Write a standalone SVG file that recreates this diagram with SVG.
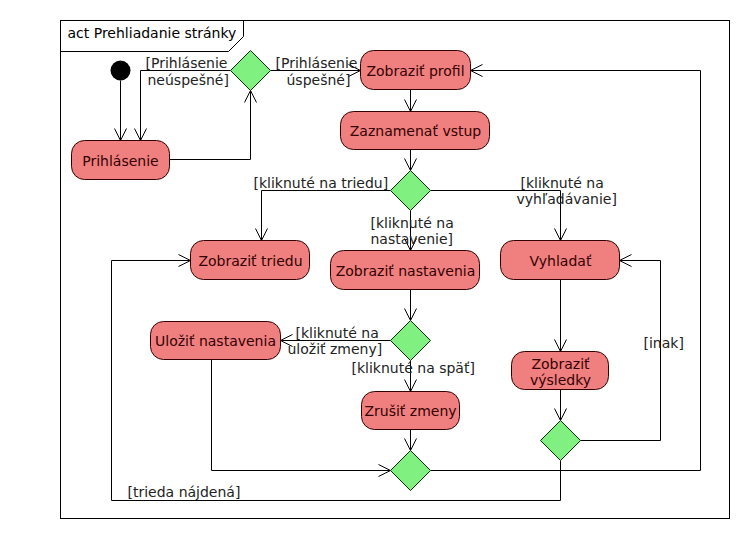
<svg xmlns="http://www.w3.org/2000/svg" width="750" height="540" viewBox="0 0 750 540">
<defs>
<marker id="arr" viewBox="-13 -7 14 14" refX="0" refY="0" markerWidth="14" markerHeight="14" markerUnits="userSpaceOnUse" orient="auto">
<path d="M-12,-6 L0,0 L-12,6" fill="none" stroke="#000" stroke-width="1"/>
</marker>
<style>
text{font-family:"DejaVu Sans","Liberation Sans",sans-serif;font-size:14px;}
.lbl{fill:#222;}
.nt{fill:#300;text-anchor:middle;}
.act{fill:#f08080;stroke:#300;stroke-width:1;}
.dec{fill:#80f080;stroke:#030;stroke-width:1;}
.c{fill:none;stroke:#000;stroke-width:1;marker-end:url(#arr);}
</style>
</defs>
<rect width="750" height="540" fill="#fff"/>
<g transform="translate(0.5,0.5)">
<g id="frame">
<rect x="60" y="20" width="669" height="498" fill="none" stroke="#000"/>
<path d="M60,51 L228,51 L243,36 L243,20" fill="none" stroke="#000"/>
<text x="67" y="37" fill="#000">act Prehliadanie stránky</text>
</g>
<g id="connectors">
<path class="c" d="M120,80 L120,140"/>
<path class="c" d="M169,159 L250,159 L250,90"/>
<path class="c" d="M230,70 L140,70 L140,140"/>
<path class="c" d="M270,70 L360,70"/>
<path class="c" d="M410,89 L410,111"/>
<path class="c" d="M410,149 L410,170"/>
<path class="c" d="M390,190 L261,190 L261,240"/>
<path class="c" d="M410,210 L410,250"/>
<path class="c" d="M430,190 L560,190 L560,240"/>
<path class="c" d="M410,289 L410,320"/>
<path class="c" d="M390,340 L280,340"/>
<path class="c" d="M410,360 L410,391"/>
<path class="c" d="M410,429 L410,450"/>
<path class="c" d="M211,359 L211,470 L390,470"/>
<path class="c" d="M430,470 L700,470 L700,70 L470,70"/>
<path class="c" d="M560,279 L560,351"/>
<path class="c" d="M560,389 L560,420"/>
<path class="c" d="M580,440 L660,440 L660,260 L619,260"/>
<path class="c" d="M560,460 L560,500 L111,500 L111,260 L190,260"/>
<text class="lbl" x="145" y="67">[Prihlásenie</text>
<text class="lbl" x="147" y="84">neúspešné]</text>
<text class="lbl" x="275" y="67">[Prihlásenie</text>
<text class="lbl" x="286" y="84">úspešné]</text>
<text class="lbl" x="253" y="187">[kliknuté na triedu]</text>
<text class="lbl" x="520" y="187">[kliknuté na</text>
<text class="lbl" x="516" y="203">vyhľadávanie]</text>
<text class="lbl" x="370" y="227">[kliknuté na</text>
<text class="lbl" x="370" y="243">nastavenie]</text>
<text class="lbl" x="295" y="337">[kliknuté na</text>
<text class="lbl" x="287" y="353">uložiť zmeny]</text>
<text class="lbl" x="351" y="372">[kliknuté na späť]</text>
<text class="lbl" x="643" y="347">[inak]</text>
<text class="lbl" x="127" y="496">[trieda nájdená]</text>
</g>
<g id="initial"><circle cx="120" cy="70" r="10" fill="#000"/></g>
<g id="prihlasenie"><rect class="act" x="71" y="140" width="98" height="39" rx="13"/><text class="nt" x="120" y="165">Prihlásenie</text></g>
<g id="d1"><path class="dec" d="M250,50 L270,70 L250,90 L230,70 Z"/></g>
<g id="profil"><rect class="act" x="360" y="50" width="110" height="39" rx="13"/><text class="nt" x="415" y="75">Zobraziť profil</text></g>
<g id="vstup"><rect class="act" x="340" y="111" width="149" height="38" rx="13"/><text class="nt" x="415" y="135">Zaznamenať vstup</text></g>
<g id="d2"><path class="dec" d="M410,170 L430,190 L410,210 L390,190 Z"/></g>
<g id="trieda"><rect class="act" x="190" y="240" width="119" height="39" rx="13"/><text class="nt" x="250" y="265">Zobraziť triedu</text></g>
<g id="nastavenia"><rect class="act" x="330" y="250" width="149" height="39" rx="13"/><text class="nt" x="405" y="275">Zobraziť nastavenia</text></g>
<g id="vyhladat"><rect class="act" x="500" y="240" width="119" height="39" rx="13"/><text class="nt" x="560" y="265">Vyhladať</text></g>
<g id="d3"><path class="dec" d="M410,320 L430,340 L410,360 L390,340 Z"/></g>
<g id="ulozit"><rect class="act" x="150" y="321" width="130" height="38" rx="13"/><text class="nt" x="215" y="345">Uložiť nastavenia</text></g>
<g id="zrusit"><rect class="act" x="361" y="391" width="98" height="38" rx="13"/><text class="nt" x="410" y="415">Zrušiť zmeny</text></g>
<g id="vysledky"><rect class="act" x="511" y="351" width="97" height="38" rx="13"/><text class="nt" x="560" y="368">Zobraziť</text><text class="nt" x="560" y="384">výsledky</text></g>
<g id="d5"><path class="dec" d="M560,420 L580,440 L560,460 L540,440 Z"/></g>
<g id="d4"><path class="dec" d="M410,450 L430,470 L410,490 L390,470 Z"/></g>
</g>
</svg>
